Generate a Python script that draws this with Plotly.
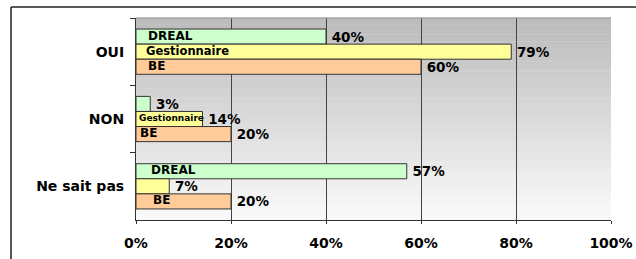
import plotly.graph_objects as go

categories = ["OUI", "NON", "Ne sait pas"]
series_names = ["DREAL", "Gestionnaire", "BE"]
dreal = [40, 3, 57]
gestionnaire = [79, 14, 7]
be = [60, 20, 20]
x_ticks = [0, 20, 40, 60, 80, 100]

series_values = [dreal, gestionnaire, be]
colors = ["#CCFFCC", "#FFFF99", "#FFCC99"]

# in-bar series name labels: (series index, category index, x offset in %, font size)
name_labels = [
    (0, 0, 2.0, 12), (1, 0, 1.6, 11.5), (2, 0, 2.1, 12),
    (1, 1, 0.3, 9), (2, 1, 0.5, 12),
    (0, 2, 2.8, 12), (2, 2, 3.2, 12),
]

FONT = "DejaVu Sans"
BARGAP = 0.328

fig = go.Figure()
for name, vals, col in zip(series_names, series_values, colors):
    fig.add_trace(go.Bar(
        y=categories, x=vals, name=name, orientation="h",
        marker=dict(color=col, line=dict(color="#333333", width=1)),
        text=[f"\u2009{v}%" for v in vals], textposition="outside",
        textfont=dict(family=FONT, size=13.5, color="black", weight="bold"),
        constraintext="none", cliponaxis=False,
    ))

barw = (1 - BARGAP) / len(series_names)
annotations = []
for si, ci, xo, fs in name_labels:
    annotations.append(dict(
        x=xo, y=ci + (si - 1) * barw, xref="x", yref="y",
        text=series_names[si], showarrow=False, xanchor="left", yanchor="middle",
        yshift=1,
        font=dict(family=FONT, size=fs, color="black", weight="bold"),
    ))

# background gradient strips
shapes = []
N = 60
top = (0xBA, 0xBA, 0xBA)
bot = (0xFA, 0xFA, 0xFA)
for i in range(N):
    t = (i + 0.5) / N
    c = tuple(int(round(top[k] + (bot[k] - top[k]) * t)) for k in range(3))
    shapes.append(dict(
        type="rect", xref="x domain", yref="y domain",
        x0=0, x1=1, y0=1 - (i + 1) / N, y1=1 - i / N + 0.002,
        fillcolor="rgb(%d,%d,%d)" % c, line=dict(width=0), layer="below",
    ))
shapes.append(dict(type="line", xref="x domain", yref="y domain", x0=0, x1=1, y0=1, y1=1,
                   line=dict(color="#999999", width=1)))
# outer chart frame: left and top edges
fx0 = (11 - 136) / 475
fy1 = 1 + (18 - 7) / 202
shapes.append(dict(type="line", xref="paper", yref="paper", x0=fx0, x1=fx0,
                   y0=-(259 - 220) / 202, y1=fy1,
                   line=dict(color="#222222", width=1.5), layer="above"))
shapes.append(dict(type="line", xref="paper", yref="paper", x0=fx0, x1=(636 - 136) / 475,
                   y0=fy1, y1=fy1,
                   line=dict(color="#222222", width=1.5), layer="above"))

fig.update_layout(
    width=636, height=259,
    margin=dict(l=136, r=25, t=18, b=39, autoexpand=False),
    paper_bgcolor="white", plot_bgcolor="rgba(0,0,0,0)",
    barmode="group", bargap=BARGAP, bargroupgap=0,
    showlegend=False,
    shapes=shapes, annotations=annotations,
    xaxis=dict(
        range=[0, 100], tickvals=x_ticks, ticktext=[f"{v}%" for v in x_ticks],
        showgrid=True, gridcolor="#444444", gridwidth=1,
        showline=True, linecolor="#333333", linewidth=1,
        ticks="outside", ticklen=3, tickcolor="#333333",
        ticklabelstandoff=7, automargin=False,
        tickfont=dict(family=FONT, size=14, color="black", weight="bold"),
        zeroline=False, fixedrange=True,
    ),
    yaxis=dict(
        autorange="reversed", type="category",
        showline=True, linecolor="#333333", linewidth=1,
        ticks="outside", ticklen=5, tickcolor="#333333", tickson="boundaries",
        ticklabelstandoff=8, automargin=False,
        tickfont=dict(family=FONT, size=14, color="black", weight="bold"),
        showgrid=False, zeroline=False, fixedrange=True,
    ),
)

fig.write_html(
    "out.html",
    config={"displayModeBar": False, "staticPlot": True},
    post_script="document.body.style.margin='0';document.body.style.overflow='hidden';document.body.style.background='white';",
)
